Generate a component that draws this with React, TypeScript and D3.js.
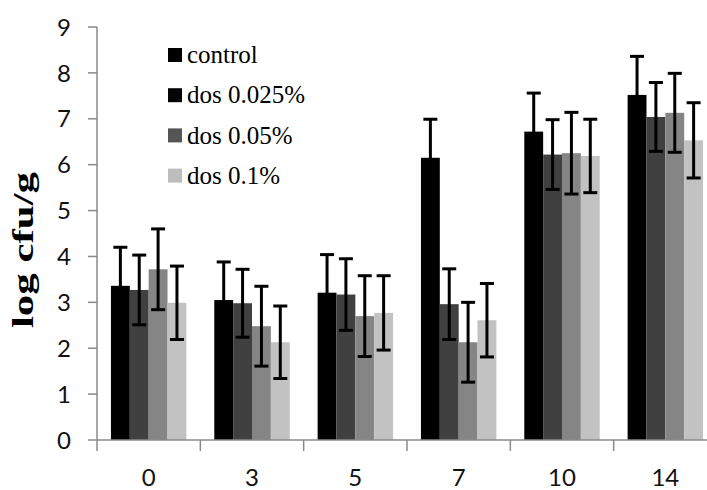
import React from 'react';
import { scaleBand, scaleLinear } from 'd3';

const days = ['0', '3', '5', '7', '10', '14'];
const seriesNames = ['control', 'dos 0.025%', 'dos 0.05%', 'dos 0.1%'];
const barColors = ['#000000', '#404040', '#858585', '#c2c2c2'];
const legendColors = ['#000000', '#050505', '#555555', '#bdbdbd'];

// mean log cfu/g per day, one array per series
const control = [3.36, 3.05, 3.21, 6.15, 6.72, 7.52];
const dos0025 = [3.27, 2.98, 3.17, 2.96, 6.22, 7.04];
const dos005 = [3.72, 2.48, 2.70, 2.13, 6.25, 7.13];
const dos01 = [2.99, 2.13, 2.77, 2.61, 6.19, 6.53];

// error bar half-widths
const controlErr = [0.84, 0.83, 0.83, 0.84, 0.84, 0.84];
const dos0025Err = [0.76, 0.74, 0.78, 0.77, 0.76, 0.75];
const dos005Err = [0.88, 0.87, 0.88, 0.87, 0.89, 0.86];
const dos01Err = [0.8, 0.79, 0.81, 0.8, 0.8, 0.82];

const yTicks = [0, 1, 2, 3, 4, 5, 6, 7, 8, 9];

const values = [control, dos0025, dos005, dos01];
const errors = [controlErr, dos0025Err, dos005Err, dos01Err];

const width = 707;
const height = 490;
const axisColor = '#8a8a8a';
const serif = '"Liberation Serif", "DejaVu Serif", serif';
const sans = 'Lato, "Open Sans", sans-serif';

const App = () => {
  const x = scaleBand().domain(days).range([97, 717]).padding(0);
  const x1 = scaleBand()
    .domain(seriesNames)
    .range([0, x.bandwidth()])
    .paddingInner(0)
    .paddingOuter(0.74);
  const y = scaleLinear().domain([0, 9]).range([440, 27]);
  const capW = 14;

  return (
    <svg
      width={width}
      height={height}
      style={{ position: 'absolute', left: 0, top: 0, background: '#fff' }}
    >
      {/* bars */}
      {days.map((d, di) => (
        <g key={d} transform={`translate(${x(d)},0)`}>
          {seriesNames.map((s, si) => {
            const v = values[si][di];
            return (
              <rect
                key={s}
                x={x1(s)}
                y={y(v)}
                width={x1.bandwidth()}
                height={y(0) - y(v)}
                fill={barColors[si]}
              />
            );
          })}
        </g>
      ))}

      {/* error bars */}
      {days.map((d, di) => (
        <g key={d} transform={`translate(${x(d)},0)`} stroke="#000" strokeWidth={3}>
          {seriesNames.map((s, si) => {
            const v = values[si][di];
            const e = errors[si][di];
            const cx = (x1(s) as number) + x1.bandwidth() / 2;
            return (
              <g key={s}>
                <line x1={cx} x2={cx} y1={y(v + e)} y2={y(v - e)} />
                <line x1={cx - capW / 2} x2={cx + capW / 2} y1={y(v + e)} y2={y(v + e)} />
                <line x1={cx - capW / 2} x2={cx + capW / 2} y1={y(v - e)} y2={y(v - e)} />
              </g>
            );
          })}
        </g>
      ))}

      {/* y axis */}
      <line x1={97} x2={97} y1={y(9)} y2={y(0)} stroke={axisColor} strokeWidth={1.5} />
      {yTicks.map((t) => (
        <g key={t}>
          <line x1={88} x2={97} y1={y(t)} y2={y(t)} stroke={axisColor} strokeWidth={1.5} />
          <text
            x={71}
            y={y(t)}
            dy="0.36em"
            textAnchor="end"
            style={{ fontFamily: sans, fontSize: 24 }}
            fill="#111"
          >
            {t}
          </text>
        </g>
      ))}

      {/* x axis */}
      <line x1={97} x2={width} y1={y(0)} y2={y(0)} stroke={axisColor} strokeWidth={1.5} />
      {days.map((d) => (
        <g key={d}>
          <line
            x1={x(d)}
            x2={x(d)}
            y1={y(0)}
            y2={y(0) + 11}
            stroke={axisColor}
            strokeWidth={1.5}
          />
          <text
            x={(x(d) as number) + x.bandwidth() / 2}
            y={486}
            textAnchor="middle"
            style={{ fontFamily: sans, fontSize: 24 }}
            fill="#111"
          >
            {d}
          </text>
        </g>
      ))}

      {/* y label, stretched along its length like the original */}
      <text
        transform="translate(33,250) rotate(-90) scale(1.48,1)"
        textAnchor="middle"
        style={{ fontFamily: serif, fontWeight: 'bold', fontSize: 29 }}
        fill="#000"
      >
        log cfu/g
      </text>

      {/* legend */}
      {seriesNames.map((s, i) => (
        <g key={s} transform={`translate(168,${55 + i * 40.2})`}>
          <rect x={0} y={-7} width={14} height={14} fill={legendColors[i]} />
          <text
            x={19}
            y={0}
            dy="0.33em"
            style={{ fontFamily: serif, fontSize: 25 }}
            fill="#000"
          >
            {s}
          </text>
        </g>
      ))}
    </svg>
  );
};

export default App;
